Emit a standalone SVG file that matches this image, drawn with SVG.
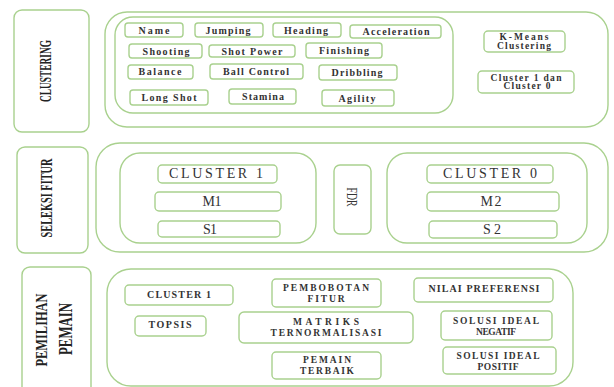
<svg xmlns="http://www.w3.org/2000/svg" width="614" height="387" viewBox="0 0 614 387">
<style>
.b{fill:#fff;stroke:#a9d18e;stroke-width:1.4}
.t{font-family:"Liberation Serif","DejaVu Serif",serif;font-weight:bold;font-size:10px;fill:#333;text-anchor:middle}
.s{font-size:9.5px}
.n{font-family:"Liberation Serif","DejaVu Serif",serif;font-size:14px;fill:#333;text-anchor:middle}
.v{font-family:"Liberation Serif","DejaVu Serif",serif;font-weight:bold;fill:#222;text-anchor:middle}
</style>
<rect width="614" height="387" fill="#fff"/>
<g id="connectors"/>

<!-- Row 1: CLUSTERING -->
<g id="label-clustering">
<rect class="b" x="14" y="10" width="75" height="122" rx="8"/>
<text class="v" font-size="17" transform="translate(51,71) rotate(-90)" textLength="62" lengthAdjust="spacingAndGlyphs">CLUSTERING</text>
</g>
<g id="clustering-outer"><rect class="b" x="105" y="12" width="503" height="115" rx="22"/></g>
<g id="features"><rect class="b" x="115" y="17" width="338" height="96" rx="18"/></g>
<g id="f-name"><rect class="b" x="125" y="23" width="58" height="14" rx="3"/><text class="t" x="154" y="33.5" textLength="31">Name</text></g>
<g id="f-jumping"><rect class="b" x="195" y="23" width="68" height="14" rx="3"/><text class="t" x="228" y="33.5" textLength="45">Jumping</text></g>
<g id="f-heading"><rect class="b" x="273" y="23" width="68" height="14" rx="3"/><text class="t" x="306" y="33.5" textLength="44">Heading</text></g>
<g id="f-acceleration"><rect class="b" x="350" y="25" width="91" height="13" rx="3"/><text class="t" x="396" y="35" textLength="67">Acceleration</text></g>
<g id="f-shooting"><rect class="b" x="129" y="44" width="73" height="14" rx="3"/><text class="t" x="166" y="54.5" textLength="47">Shooting</text></g>
<g id="f-shotpower"><rect class="b" x="209" y="45" width="86" height="12" rx="3"/><text class="t" x="252" y="54.5" textLength="61">Shot Power</text></g>
<g id="f-finishing"><rect class="b" x="306" y="43" width="76" height="15" rx="3"/><text class="t" x="344" y="54" textLength="50">Finishing</text></g>
<g id="f-balance"><rect class="b" x="128" y="65" width="65" height="14" rx="3"/><text class="t" x="160" y="75" textLength="43">Balance</text></g>
<g id="f-ballcontrol"><rect class="b" x="210" y="64" width="93" height="15" rx="3"/><text class="t" x="256" y="75" textLength="66">Ball Control</text></g>
<g id="f-dribbling"><rect class="b" x="319" y="65" width="78" height="15" rx="3"/><text class="t" x="357" y="75.5" textLength="51">Dribbling</text></g>
<g id="f-longshot"><rect class="b" x="130" y="90" width="78" height="15" rx="3"/><text class="t" x="169" y="101" textLength="55">Long Shot</text></g>
<g id="f-stamina"><rect class="b" x="229" y="89" width="67" height="15" rx="3"/><text class="t" x="263" y="100" textLength="42">Stamina</text></g>
<g id="f-agility"><rect class="b" x="322" y="90" width="72" height="16" rx="3"/><text class="t" x="357" y="101.5" textLength="37">Agility</text></g>
<g id="kmeans"><rect class="b" x="484" y="31" width="81" height="21" rx="4"/><text class="t s" x="524" y="40" textLength="49">K-Means</text><text class="t s" x="524" y="48.5" textLength="54">Clustering</text></g>
<g id="cluster-result"><rect class="b" x="478" y="71" width="96" height="22" rx="4"/><text class="t s" x="526" y="80.5" textLength="71">Cluster 1 dan</text><text class="t s" x="527" y="89" textLength="47">Cluster 0</text></g>

<!-- Row 2: SELEKSI FITUR -->
<g id="label-seleksi">
<rect class="b" x="17" y="147" width="71" height="106" rx="8"/>
<text class="v" font-size="17" transform="translate(52,198) rotate(-90)" textLength="79" lengthAdjust="spacingAndGlyphs">SELEKSI FITUR</text>
</g>
<g id="seleksi-outer"><rect class="b" x="96" y="143" width="512" height="109" rx="24"/></g>
<g id="cluster1-group"><rect class="b" x="120" y="153" width="196" height="90" rx="20"/></g>
<g id="s-cluster1"><rect class="b" x="158" y="165" width="119" height="18" rx="4"/><text class="n" x="216" y="178" textLength="94">CLUSTER 1</text></g>
<g id="s-m1"><rect class="b" x="155" y="192" width="126" height="19" rx="4"/><text class="n" x="212" y="206" textLength="19">M1</text></g>
<g id="s-s1"><rect class="b" x="158" y="221" width="122" height="16" rx="4"/><text class="n" x="210" y="233.5" textLength="14">S1</text></g>
<g id="fdr"><rect class="b" x="334" y="165" width="37" height="69" rx="6"/><text class="n" font-size="11" transform="translate(347,197) rotate(90)" textLength="19" lengthAdjust="spacingAndGlyphs">FDR</text></g>
<g id="cluster0-group"><rect class="b" x="387" y="153" width="200" height="90" rx="20"/></g>
<g id="s-cluster0"><rect class="b" x="427" y="165" width="126" height="18" rx="4"/><text class="n" x="490" y="178" textLength="94">CLUSTER 0</text></g>
<g id="s-m2"><rect class="b" x="427" y="192" width="132" height="19" rx="4"/><text class="n" x="491" y="206" textLength="21">M2</text></g>
<g id="s-s2"><rect class="b" x="429" y="221" width="128" height="17" rx="4"/><text class="n" x="492" y="234" textLength="18">S2</text></g>

<!-- Row 3: PEMILIHAN PEMAIN -->
<g id="label-pemilihan">
<rect class="b" x="22" y="267" width="69" height="130" rx="8"/>
<text class="v" font-size="17" transform="translate(47,330) rotate(-90)" textLength="73" lengthAdjust="spacingAndGlyphs">PEMILIHAN</text>
<text class="v" font-size="19" transform="translate(72,329) rotate(-90)" textLength="52" lengthAdjust="spacingAndGlyphs">PEMAIN</text>
</g>
<g id="pemilihan-outer"><rect class="b" x="107" y="269" width="466" height="117" rx="24"/></g>
<g id="p-cluster1"><rect class="b" x="125" y="285" width="108" height="20" rx="4"/><text class="t" x="179" y="298" textLength="64">CLUSTER 1</text></g>
<g id="p-topsis"><rect class="b" x="135" y="316" width="71" height="20" rx="4"/><text class="t" x="170" y="328" textLength="43">TOPSIS</text></g>
<g id="p-pembobotan"><rect class="b" x="272" y="279" width="109" height="28" rx="4"/><text class="t s" x="326" y="290.5" textLength="86">PEMBOBOTAN</text><text class="t s" x="326" y="301.5" textLength="37">FITUR</text></g>
<g id="p-matriks"><rect class="b" x="239" y="312" width="174" height="31" rx="5"/><text class="t s" x="326" y="325" textLength="66">MATRIKS</text><text class="t s" x="326" y="335.5" textLength="111">TERNORMALISASI</text></g>
<g id="p-pemain"><rect class="b" x="272" y="352" width="109" height="27" rx="4"/><text class="t s" x="327" y="363" textLength="48">PEMAIN</text><text class="t s" x="327" y="374" textLength="54">TERBAIK</text></g>
<g id="p-nilai"><rect class="b" x="414" y="278" width="139" height="24" rx="4"/><text class="t" x="484" y="291.5" textLength="111">NILAI PREFERENSI</text></g>
<g id="p-negatif"><rect class="b" x="441" y="311" width="111" height="29" rx="4"/><text class="t s" x="496" y="323.5" textLength="86">SOLUSI IDEAL</text><text class="t s" x="496" y="334.5" textLength="40">NEGATIF</text></g>
<g id="p-positif"><rect class="b" x="443" y="347" width="113" height="27" rx="4"/><text class="t s" x="498" y="359" textLength="83">SOLUSI IDEAL</text><text class="t s" x="498" y="370" textLength="41">POSITIF</text></g>
</svg>
